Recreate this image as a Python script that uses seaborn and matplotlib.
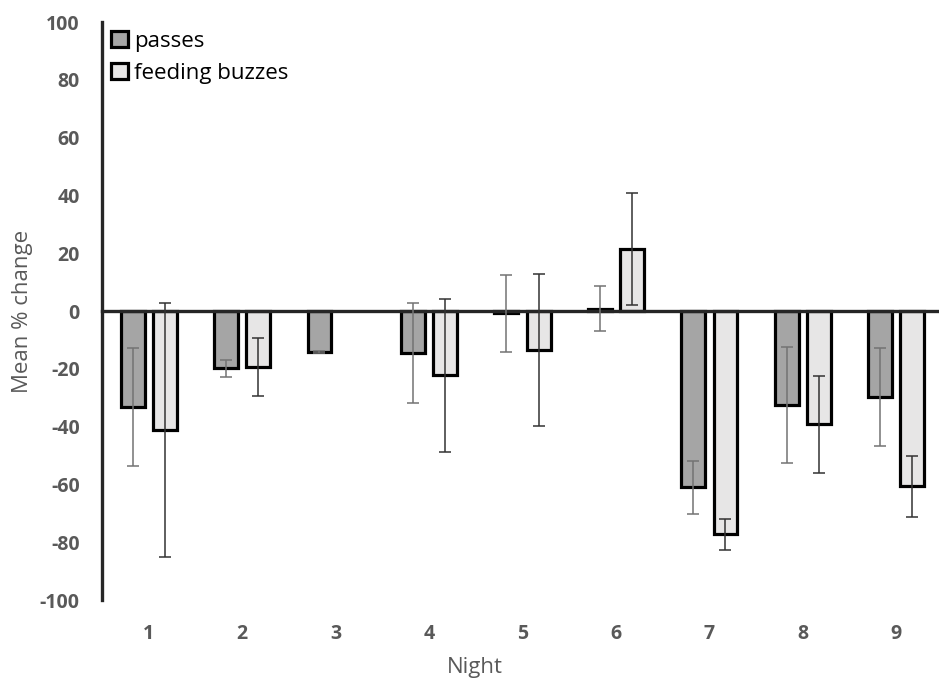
import matplotlib
matplotlib.use('Agg')
import matplotlib.pyplot as plt
from matplotlib.container import BarContainer
import seaborn as sns
import numpy as np
import pandas as pd

# values
nights = ['1', '2', '3', '4', '5', '6', '7', '8', '9']
passes = [-33.3, -19.8, -14.2, -14.6, -0.8, 0.8, -61.0, -32.6, -29.8]
passes_err = [20.5, 3.0, 0.3, 17.3, 13.3, 7.8, 9.2, 20.0, 17.0]
feeding = [-41.2, -19.4, np.nan, -22.2, -13.5, 21.5, -77.3, -39.2, -60.7]
feeding_err = [44.0, 10.0, np.nan, 26.5, 26.3, 19.4, 5.5, 16.8, 10.5]
series_names = ['passes', 'feeding buzzes']
y_ticks = [-100, -80, -60, -40, -20, 0, 20, 40, 60, 80, 100]

df = pd.DataFrame({
    'Night': nights * 2,
    'value': passes + feeding,
    'series': [series_names[0]] * len(nights) + [series_names[1]] * len(nights),
})

sns.set_style('white')
plt.rcParams['font.family'] = ['Open Sans', 'DejaVu Sans']

gray_txt = '#595959'
fig = plt.figure(figsize=(9.39, 6.84), dpi=100)
ax = fig.add_axes([0.1086, 0.1228, 0.8956, 0.845])

sns.barplot(data=df, x='Night', y='value', hue='series', hue_order=series_names,
            palette={'passes': '#a5a5a5', 'feeding buzzes': '#e7e6e6'},
            saturation=1, width=0.69, gap=0.26, edgecolor='black', linewidth=2.3,
            errorbar=None, ax=ax)

# error bars on top of each bar
vals = [passes, feeding]
errs = [passes_err, feeding_err]
err_colors = ['#737373', '#333333']
bar_conts = [c for c in ax.containers if isinstance(c, BarContainer)]
for k, cont in enumerate(bar_conts):
    for bar in cont.patches:
        xc = bar.get_x() + bar.get_width() / 2
        i = int(round(xc))
        if np.isnan(vals[k][i]):
            continue
        ax.errorbar(xc, vals[k][i], yerr=errs[k][i], fmt='none', ecolor=err_colors[k],
                    elinewidth=1.1, capsize=4.5, capthick=1.1, zorder=4)

ax.set_ylim(-100, 100)
ax.set_xlim(-0.5, 8.5)
ax.set_yticks(y_ticks)
ax.set_yticklabels([str(t) for t in y_ticks], fontsize=14, fontweight='bold', color=gray_txt)
ax.tick_params(axis='y', length=0, pad=16)

# zero line with small ticks between nights
ax.spines['bottom'].set_position(('data', 0))
ax.spines['bottom'].set_linewidth(2.4)
ax.spines['bottom'].set_zorder(3)
ax.spines['left'].set_linewidth(2.4)
ax.spines['top'].set_visible(False)
ax.spines['right'].set_visible(False)
ax.set_xticks(np.arange(-0.5, 9.0, 1.0), minor=True)
ax.set_xticks(range(len(nights)))
ax.set_xticklabels([])
ax.tick_params(axis='x', which='major', length=0)
ax.tick_params(axis='x', which='minor', length=5, width=2.2, direction='out', color='black')

# night labels along the bottom
sec = ax.secondary_xaxis('bottom')
sec.spines['bottom'].set_visible(False)
sec.set_xticks(range(len(nights)))
sec.set_xticklabels(nights, fontsize=14, fontweight='bold', color=gray_txt)
sec.tick_params(axis='x', length=0, pad=17)

ax.set_xlabel('Night', fontsize=16, color=gray_txt)
ax.xaxis.set_label_coords(0.4435, -0.098)
ax.set_ylabel('Mean % change', fontsize=16, color=gray_txt)
ax.yaxis.set_label_coords(-0.082, 0.5)

handles, labels = ax.get_legend_handles_labels()
leg = ax.legend(handles, labels, loc='upper left', bbox_to_anchor=(0.0, 1.0), frameon=False,
                fontsize=16, handlelength=0.75, handleheight=0.75, handletextpad=0.3,
                labelspacing=0.5, borderpad=0.1, borderaxespad=0.3, labelcolor='black')

fig.savefig('out.png', dpi=100)
